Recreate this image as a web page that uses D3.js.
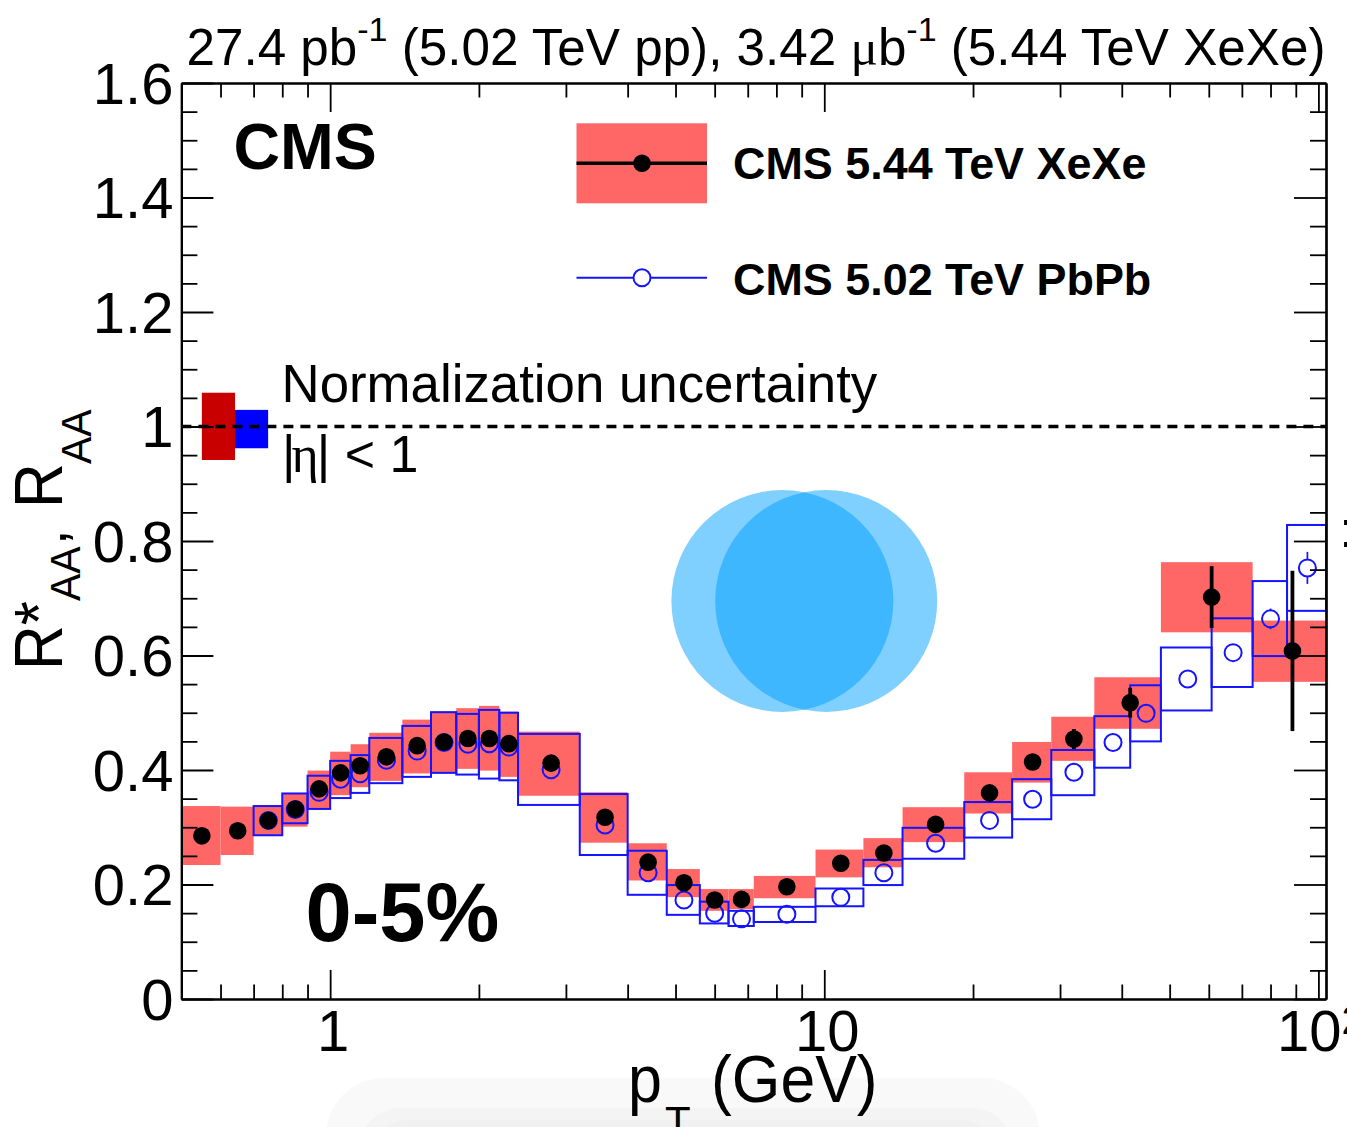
<!DOCTYPE html>
<html>
<head>
<meta charset="utf-8">
<title>RAA 0-5%</title>
<script src="https://cdn.jsdelivr.net/npm/d3@7"></script>
<style>
  html, body { margin: 0; padding: 0; background: #fff; }
  svg { display: block; }
  text { font-family: "Liberation Sans", Arial, sans-serif; fill: #000; }
  .greek { font-family: "Liberation Serif", serif; }
</style>
</head>
<body>
<svg id="chart"></svg>
<script>
// XeXe systematic boxes
const xeEdges = [0.5, 0.6, 0.7, 0.8, 0.9, 1, 1.1, 1.2, 1.4, 1.6, 1.8, 2, 2.2, 2.4, 3.2, 4, 4.8, 5.6, 6.4, 7.2, 9.6, 12, 14.4, 19.2, 24, 28.8, 35.2, 48, 73.6, 103.6];
const xeSysHigh = [0.337, 0.336, 0.338, 0.359, 0.399, 0.432, 0.445, 0.465, 0.488, 0.502, 0.508, 0.512, 0.502, 0.467, 0.361, 0.272, 0.227, 0.192, 0.192, 0.215, 0.261, 0.281, 0.335, 0.396, 0.449, 0.493, 0.562, 0.763, 0.661];
const xeSysLow = [0.234, 0.2515, 0.286, 0.301, 0.332, 0.356, 0.37, 0.381, 0.394, 0.396, 0.402, 0.399, 0.388, 0.355, 0.273, 0.207, 0.178, 0.154, 0.157, 0.176, 0.2125, 0.23, 0.274, 0.324, 0.378, 0.416, 0.472, 0.6405, 0.554];

// XeXe points
const xePt = [0.55, 0.65, 0.75, 0.85, 0.95, 1.05, 1.15, 1.3, 1.5, 1.7, 1.9, 2.1, 2.3, 2.8, 3.6, 4.4, 5.2, 6, 6.8, 8.4, 10.8, 13.2, 16.8, 21.6, 26.4, 32, 41.6, 60.8, 88.6];
const xeRaa = [0.285, 0.294, 0.3115, 0.332, 0.367, 0.395, 0.4075, 0.423, 0.4425, 0.449, 0.455, 0.455, 0.446, 0.412, 0.3175, 0.239, 0.203, 0.173, 0.174, 0.196, 0.237, 0.255, 0.305, 0.36, 0.414, 0.454, 0.5176, 0.702, 0.608];
const xeStat = [0.002, 0.002, 0.002, 0.002, 0.002, 0.002, 0.002, 0.002, 0.002, 0.002, 0.002, 0.003, 0.003, 0.003, 0.004, 0.005, 0.005, 0.006, 0.006, 0.005, 0.007, 0.009, 0.01, 0.012, 0.014, 0.0175, 0.026, 0.054, 0.14];

// PbPb systematic boxes
const pbEdges = [0.7, 0.8, 0.9, 1, 1.1, 1.2, 1.4, 1.6, 1.8, 2, 2.2, 2.4, 3.2, 4, 4.8, 5.6, 6.4, 7.2, 9.6, 12, 14.4, 19.2, 24, 28.8, 35.2, 41.6, 48, 60.8, 73.6, 86.4, 103.6];
const pbSysHigh = [0.337, 0.359, 0.39, 0.416, 0.426, 0.456, 0.477, 0.501, 0.498, 0.505, 0.5, 0.463, 0.358, 0.259, 0.199, 0.17, 0.154, 0.161, 0.193, 0.243, 0.299, 0.344, 0.384, 0.435, 0.494, 0.548, 0.614, 0.665, 0.73, 0.828];
const pbSysLow = [0.286, 0.307, 0.332, 0.351, 0.36, 0.377, 0.388, 0.395, 0.392, 0.385, 0.382, 0.339, 0.2515, 0.182, 0.147, 0.132, 0.1275, 0.1345, 0.162, 0.199, 0.245, 0.282, 0.314, 0.356, 0.404, 0.45, 0.504, 0.545, 0.599, 0.678];

// PbPb points
const pbPt = [0.75, 0.85, 0.95, 1.05, 1.15, 1.3, 1.5, 1.7, 1.9, 2.1, 2.3, 2.8, 3.6, 4.4, 5.2, 6, 6.8, 8.4, 10.8, 13.2, 16.8, 21.6, 26.4, 32, 38.4, 44.8, 54.4, 67.2, 80, 95];
const pbRaa = [0.312, 0.331, 0.361, 0.384, 0.3935, 0.417, 0.433, 0.448, 0.445, 0.446, 0.44, 0.4005, 0.304, 0.2206, 0.173, 0.1497, 0.14, 0.148, 0.1776, 0.2206, 0.272, 0.312, 0.349, 0.396, 0.448, 0.499, 0.559, 0.605, 0.664, 0.753];
const pbStat = [0.001, 0.001, 0.001, 0.001, 0.001, 0.001, 0.001, 0.001, 0.001, 0.001, 0.001, 0.001, 0.001, 0.001, 0.001, 0.001, 0.001, 0.002, 0.002, 0.003, 0.004, 0.005, 0.006, 0.007, 0.008, 0.009, 0.01, 0.012, 0.018, 0.028];

// Normalization uncertainty boxes at y = 1
const normEdges = [0.55, 0.642, 0.749];
const normHigh = [1.059, 1.029];
const normLow = [0.9415, 0.962];
const normColors = ["#c80000", "#0000ff"];

// Axis ticks
const xMajor = [1, 10, 100];
const xMinor = [0.6, 0.7, 0.8, 0.9, 2, 3, 4, 5, 6, 7, 8, 9, 20, 30, 40, 50, 60, 70, 80, 90];
const yMajor = [0, 0.2, 0.4, 0.6, 0.8, 1, 1.2, 1.4, 1.6];
const yMinor = [0.05, 0.1, 0.15, 0.25, 0.3, 0.35, 0.45, 0.5, 0.55, 0.65, 0.7, 0.75, 0.85, 0.9, 0.95, 1.05, 1.1, 1.15, 1.25, 1.3, 1.35, 1.45, 1.5, 1.55];
const yLabels = ["0", "0.2", "0.4", "0.6", "0.8", "1", "1.2", "1.4", "1.6"];
const xLabels = ["1", "10", "10"];

const svgWidth = 1347;
const svgHeight = 1127;
const margin = { top: 83, right: 21, bottom: 128, left: 181.4 };
const plotRight = svgWidth - margin.right;
const plotBottom = svgHeight - margin.bottom;

const red = "#ff6666";
const blue = "#1414ff";
const pbRadius = 8.5;
const xeRadius = 8.8;

const svg = d3.select("#chart").attr("width", svgWidth).attr("height", svgHeight);

const xScale = d3.scaleLog().domain([0.5, 103.6]).range([margin.left, plotRight]);
const yScale = d3.scaleLinear().domain([0, 1.6]).range([plotBottom, margin.top]);

// Faint grey shape showing through at the bottom of the picture
[
  { x: 326, y: 1078, w: 714, rx: 58, fill: "#f9f9f9" },
  { x: 360, y: 1108, w: 652, rx: 40, fill: "#f4f4f4" },
  { x: 376, y: 1120, w: 616, rx: 30, fill: "#f0f0f0" },
].forEach((r) => {
  svg.append("rect").attr("x", r.x).attr("y", r.y).attr("width", r.w).attr("height", 120).attr("rx", r.rx).attr("fill", r.fill);
});

// Overlapping nuclei drawing
svg.selectAll(".nucleus")
  .data([782.4, 826.2])
  .enter()
  .append("circle")
  .attr("class", "nucleus")
  .attr("cx", (d) => d)
  .attr("cy", 601)
  .attr("r", 111)
  .attr("fill", "#00a0ff")
  .attr("fill-opacity", 0.5);

// XeXe boxes
svg.append("g")
  .selectAll("rect")
  .data(xeSysHigh)
  .enter()
  .append("rect")
  .attr("x", (d, i) => xScale(xeEdges[i]))
  .attr("width", (d, i) => xScale(xeEdges[i + 1]) - xScale(xeEdges[i]))
  .attr("y", (d) => yScale(d))
  .attr("height", (d, i) => yScale(xeSysLow[i]) - yScale(d))
  .attr("fill", red);

// Normalization boxes
svg.append("g")
  .selectAll("rect")
  .data(normHigh)
  .enter()
  .append("rect")
  .attr("x", (d, i) => xScale(normEdges[i]))
  .attr("width", (d, i) => xScale(normEdges[i + 1]) - xScale(normEdges[i]))
  .attr("y", (d) => yScale(d))
  .attr("height", (d, i) => yScale(normLow[i]) - yScale(d))
  .attr("fill", (d, i) => normColors[i]);

// Dashed line at 1
svg.append("line")
  .attr("x1", xScale(0.5))
  .attr("x2", xScale(103.6))
  .attr("y1", yScale(1))
  .attr("y2", yScale(1))
  .attr("stroke", "#000")
  .attr("stroke-width", 3.6)
  .attr("stroke-dasharray", "10,7");

// PbPb boxes, open
svg.append("g")
  .selectAll("rect")
  .data(pbSysHigh)
  .enter()
  .append("rect")
  .attr("x", (d, i) => xScale(pbEdges[i]))
  .attr("width", (d, i) => xScale(pbEdges[i + 1]) - xScale(pbEdges[i]))
  .attr("y", (d) => yScale(d))
  .attr("height", (d, i) => yScale(pbSysLow[i]) - yScale(d))
  .attr("fill", "none")
  .attr("stroke", blue)
  .attr("stroke-width", 2);

// Error bar arms start at the marker edge, nothing is drawn inside the marker
const addArms = (g, pts, vals, errs, radius, color, width) => {
  [-1, 1].forEach((side) => {
    g.append("g")
      .selectAll("line")
      .data(vals)
      .enter()
      .append("line")
      .attr("x1", (d, i) => xScale(pts[i]))
      .attr("x2", (d, i) => xScale(pts[i]))
      .attr("y1", (d) => yScale(d) + side * radius)
      .attr("y2", (d, i) => {
        const end = yScale(d - side * errs[i]);
        return Math.abs(end - yScale(d)) > radius ? end : yScale(d) + side * radius;
      })
      .attr("stroke", color)
      .attr("stroke-width", width);
  });
};

// PbPb points
const pbG = svg.append("g");
addArms(pbG, pbPt, pbRaa, pbStat, pbRadius, blue, 1.7);
pbG.append("g")
  .selectAll("circle")
  .data(pbRaa)
  .enter()
  .append("circle")
  .attr("cx", (d, i) => xScale(pbPt[i]))
  .attr("cy", (d) => yScale(d))
  .attr("r", pbRadius)
  .attr("fill", "none")
  .attr("stroke", blue)
  .attr("stroke-width", 2);

// XeXe points
const xeG = svg.append("g");
addArms(xeG, xePt, xeRaa, xeStat, xeRadius - 1, "#000", 3.8);
xeG.append("g")
  .selectAll("circle")
  .data(xeRaa)
  .enter()
  .append("circle")
  .attr("cx", (d, i) => xScale(xePt[i]))
  .attr("cy", (d) => yScale(d))
  .attr("r", xeRadius)
  .attr("fill", "#000");

// Axes, all four sides with ticks pointing in
const addAxis = (axis, x, y, cls) => {
  svg.append("g")
    .attr("class", cls)
    .attr("transform", `translate(${x},${y})`)
    .call(axis)
    .call((g) => g.select(".domain").attr("stroke", "#000").attr("stroke-width", 2.2))
    .call((g) => g.selectAll(".tick line").attr("stroke", "#000").attr("stroke-width", 1.8));
};

addAxis(d3.axisBottom(xScale).tickValues(xMinor).tickSize(-14.5).tickSizeOuter(0).tickFormat(""), 0, plotBottom, "x-minor");
addAxis(d3.axisTop(xScale).tickValues(xMinor).tickSize(-14.5).tickSizeOuter(0).tickFormat(""), 0, margin.top, "x-minor-top");
addAxis(d3.axisTop(xScale).tickValues(xMajor).tickSize(-29).tickSizeOuter(0).tickFormat(""), 0, margin.top, "x-major-top");
addAxis(d3.axisBottom(xScale).tickValues(xMajor).tickSize(-29).tickSizeOuter(0).tickPadding(11)
  .tickFormat((d, i) => xLabels[i]), 0, plotBottom, "x-major");

addAxis(d3.axisLeft(yScale).tickValues(yMinor).tickSize(-16).tickSizeOuter(0).tickFormat(""), margin.left, 0, "y-minor");
addAxis(d3.axisRight(yScale).tickValues(yMinor).tickSize(-16).tickSizeOuter(0).tickFormat(""), plotRight, 0, "y-minor-right");
addAxis(d3.axisRight(yScale).tickValues(yMajor).tickSize(-32).tickSizeOuter(0).tickFormat(""), plotRight, 0, "y-major-right");
addAxis(d3.axisLeft(yScale).tickValues(yMajor).tickSize(-32).tickSizeOuter(0).tickPadding(8)
  .tickFormat((d, i) => yLabels[i]), margin.left, 0, "y-major");

svg.selectAll(".x-major text, .y-major text").style("font-size", "58px");
svg.selectAll(".y-major text").attr("y", 1.5);
svg.selectAll(".x-major text").attr("x", 2.5);

// Exponent of the 10^2 label, runs off the page as in the picture
svg.selectAll(".x-major .tick text")
  .filter((d) => d === 100)
  .attr("x", 1.5)
  .append("tspan")
  .attr("dy", "-0.42em")
  .style("font-size", "40px")
  .text("2");

// Text helper
const addText = (txt, x, y, size, weight) =>
  svg.append("text")
    .attr("x", x)
    .attr("y", y)
    .style("font-size", size + "px")
    .style("font-weight", weight || "normal")
    .text(txt);

// Title with superscripts
const title = svg.append("text").attr("x", 186.5).attr("y", 65).style("font-size", "51.2px");
title.append("tspan").text("27.4 pb");
title.append("tspan").attr("dy", -24).style("font-size", "34px").text("-1");
title.append("tspan").attr("dy", 24).text(" (5.02 TeV pp), 3.42 ");
title.append("tspan").attr("class", "greek").text("\u03bc");
title.append("tspan").text("b");
title.append("tspan").attr("dy", -24).style("font-size", "34px").text("-1");
title.append("tspan").attr("dy", 24).text(" (5.44 TeV XeXe)");

addText("CMS", 233.5, 169, 64.5, "bold");
addText("0-5%", 305.5, 941, 83, "bold");
addText("Normalization uncertainty", 281.5, 402, 52.8);

const eta = svg.append("text").attr("x", 282).attr("y", 472).style("font-size", "52px");
eta.append("tspan").text("|");
eta.append("tspan").attr("class", "greek").attr("dx", -4).text("\u03b7");
eta.append("tspan").attr("dx", -2).text("| < 1");

// Legend
const legendX = [576.5, 707];
svg.append("rect")
  .attr("x", legendX[0])
  .attr("y", 123.3)
  .attr("width", legendX[1] - legendX[0])
  .attr("height", 80)
  .attr("fill", red);
svg.append("line")
  .attr("x1", legendX[0]).attr("x2", legendX[1])
  .attr("y1", 163.3).attr("y2", 163.3)
  .attr("stroke", "#000").attr("stroke-width", 3.4);
svg.append("circle").attr("cx", 642).attr("cy", 163.3).attr("r", xeRadius).attr("fill", "#000");
svg.append("line")
  .attr("x1", legendX[0]).attr("x2", legendX[1])
  .attr("y1", 277.7).attr("y2", 277.7)
  .attr("stroke", blue).attr("stroke-width", 2);
svg.append("circle").attr("cx", 642).attr("cy", 277.7).attr("r", pbRadius)
  .attr("fill", "#fff").attr("stroke", blue).attr("stroke-width", 2);
addText("CMS 5.44 TeV XeXe", 733, 179, 44.9, "bold");
addText("CMS 5.02 TeV PbPb", 733, 295, 44.9, "bold");

// Rotated y title, placed in pieces
const addVertical = (txt, x, y, size, stretch) =>
  svg.append("text")
    .attr("transform", `translate(${x},${y}) rotate(-90) scale(1,${stretch || 1})`)
    .style("font-size", size + "px")
    .text(txt);

addVertical("R*", 62, 670, 62, 1.1);
addVertical("AA", 80, 601, 41, 1.05);
addVertical(",", 66, 545, 56);
addVertical("R", 62, 508, 62, 1.1);
addVertical("AA", 91, 464, 41, 1.05);

// X title, subscript runs off the bottom
const addStretched = (txt, x, y, size, stretch) =>
  svg.append("text")
    .attr("transform", `translate(${x},${y}) scale(1,${stretch})`)
    .style("font-size", size + "px")
    .text(txt);

addStretched("p", 628, 1102, 61, 1.1);
addStretched("T", 665, 1136, 42, 1);
addStretched("(GeV)", 711, 1102, 62.5, 1.08);

// Fragment of the next panel at the right edge
addText(":", 1339.5, 547, 50);
</script>
</body>
</html>
